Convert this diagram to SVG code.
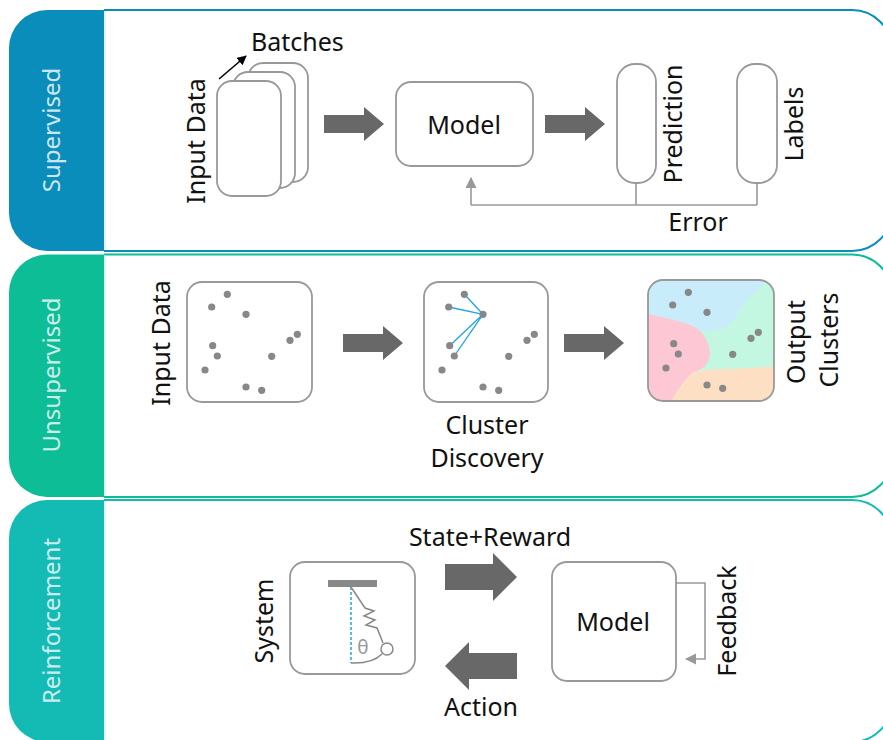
<svg xmlns="http://www.w3.org/2000/svg" xmlns:xlink="http://www.w3.org/1999/xlink" width="883" height="740" viewBox="0 0 883 740">
  <style>
    text { font-family: "Noto Sans", "Open Sans", "DejaVu Sans", sans-serif; font-size: 25px; fill: #111; }
    .tab-label { font-size: 24px; fill: #e4f4f7; fill-opacity: 0.9; text-anchor: middle; }
    .mid { text-anchor: middle; }
    .box { fill: #fff; stroke: #999; stroke-width: 1.8; }
    .wire { fill: none; stroke: #999; stroke-width: 1.6; }
    .block { fill: #686868; }
    .dot { fill: #888; }
    .spring { fill: none; stroke: #888; stroke-width: 1.5; }
  </style>
  <defs>
    <marker id="tipGray" viewBox="0 0 10 10" refX="9" refY="5" markerWidth="7" markerHeight="7" orient="auto">
      <path d="M0,0 L10,5 L0,10 z" fill="#999"/>
    </marker>
    <marker id="tipBlack" viewBox="0 0 10 10" refX="9" refY="5" markerWidth="6" markerHeight="6" orient="auto">
      <path d="M0,0 L10,5 L0,10 z" fill="#000"/>
    </marker>
    <!-- scatter of eleven samples, positioned relative to a box corner -->
    <g id="samples">
      <circle class="dot" cx="40.3" cy="12.3" r="3.6"/>
      <circle class="dot" cx="24.7" cy="25" r="3.6"/>
      <circle class="dot" cx="59" cy="32.3" r="3.6"/>
      <circle class="dot" cx="25.7" cy="63.7" r="3.6"/>
      <circle class="dot" cx="30.3" cy="74" r="3.6"/>
      <circle class="dot" cx="18" cy="88" r="3.6"/>
      <circle class="dot" cx="84.7" cy="74.3" r="3.6"/>
      <circle class="dot" cx="103" cy="58.3" r="3.6"/>
      <circle class="dot" cx="110.3" cy="52.3" r="3.6"/>
      <circle class="dot" cx="59" cy="105" r="3.6"/>
      <circle class="dot" cx="74.7" cy="108.3" r="3.6"/>
    </g>
    <clipPath id="clusterClip">
      <rect x="648" y="280" width="126" height="121" rx="15"/>
    </clipPath>
  </defs>

  <!-- section frames with coloured side tabs -->
  <g id="panel-supervised">
    <path d="M104,10 H852 A40,40 0 0 1 892,50 V211 A40,40 0 0 1 852,251 H104" fill="#fff" stroke="#0b8dbb" stroke-width="2"/>
    <path d="M104,10 V251 H47 A38,38 0 0 1 9,213 V48 A38,38 0 0 1 47,10 Z" fill="#0b8dbb"/>
    <line x1="105" y1="11" x2="105" y2="250" stroke="#d6eef6" stroke-width="1.5"/>
    <text class="tab-label" transform="translate(60,130) rotate(-90)">Supervised</text>
  </g>
  <g id="panel-unsupervised">
    <path d="M104,254.5 H852 A40,40 0 0 1 892,294.5 V457 A40,40 0 0 1 852,497 H104" fill="#fff" stroke="#0dbd95" stroke-width="2"/>
    <path d="M104,254.5 V497 H47 A38,38 0 0 1 9,459 V292.5 A38,38 0 0 1 47,254.5 Z" fill="#0dbd95"/>
    <line x1="105" y1="255.5" x2="105" y2="496" stroke="#d4f3ea" stroke-width="1.5"/>
    <text class="tab-label" transform="translate(60,375) rotate(-90)">Unsupervised</text>
  </g>
  <g id="panel-reinforcement">
    <path d="M104,500 H852 A40,40 0 0 1 892,540 V702 A40,40 0 0 1 852,742 H104" fill="#fff" stroke="#14bbb5" stroke-width="2"/>
    <path d="M104,500 V742 H47 A38,38 0 0 1 9,704 V538 A38,38 0 0 1 47,500 Z" fill="#14bbb5"/>
    <line x1="105" y1="501" x2="105" y2="741" stroke="#d4f2f1" stroke-width="1.5"/>
    <text class="tab-label" transform="translate(60,621) rotate(-90)">Reinforcement</text>
  </g>

  <!-- Supervised -->
  <g id="batches">
    <rect class="box" x="248" y="63" width="60" height="119" rx="15"/>
    <rect class="box" x="233" y="72" width="62" height="116" rx="15"/>
    <rect class="box" x="217" y="81" width="64" height="115" rx="15"/>
    <text transform="translate(205,141) rotate(-90)" class="mid">Input Data</text>
    <text x="251" y="51">Batches</text>
  </g>
  <g id="model-supervised">
    <rect class="box" x="396" y="82" width="137" height="84" rx="15"/>
    <text x="464" y="134" class="mid">Model</text>
  </g>
  <g id="prediction">
    <rect class="box" x="617" y="64" width="39" height="119" rx="18"/>
    <text transform="translate(682,124) rotate(-90)" class="mid">Prediction</text>
  </g>
  <g id="labels">
    <rect class="box" x="737" y="64" width="40" height="119" rx="18"/>
    <text transform="translate(803,124) rotate(-90)" class="mid">Labels</text>
  </g>

  <!-- Unsupervised -->
  <g id="input-data-unsup">
    <rect class="box" x="187" y="282" width="125" height="120" rx="15"/>
    <use xlink:href="#samples" href="#samples" transform="translate(187,282)"/>
    <text transform="translate(170,343) rotate(-90)" class="mid">Input Data</text>
  </g>
  <g id="cluster-discovery">
    <rect class="box" x="424" y="282" width="124" height="120" rx="15"/>
    <g stroke="#1ea3e6" stroke-width="1.3">
      <line x1="483" y1="314.3" x2="464.3" y2="294.3"/>
      <line x1="483" y1="314.3" x2="448.7" y2="307"/>
      <line x1="483" y1="314.3" x2="449.7" y2="345.7"/>
      <line x1="483" y1="314.3" x2="454.3" y2="356"/>
    </g>
    <use xlink:href="#samples" href="#samples" transform="translate(424,282)"/>
    <text x="487" y="434" class="mid">Cluster</text>
    <text x="487" y="467" class="mid">Discovery</text>
  </g>
  <g id="output-clusters">
    <g clip-path="url(#clusterClip)">
      <rect x="646" y="278" width="130" height="126" fill="#c9ecfb"/>
      <path d="M700,332 C712,330 726,332 736,317 C745,302 753,290 770,282 L776,280 L776,404 L700,404 Z" fill="#c3f7e2"/>
      <path d="M646,313 C668,320 692,322 701,332 C712,344 712,360 705,366 C700,370 696,371 693,372 C683,382 676,392 670,404 L646,404 Z" fill="#fdc7d4"/>
      <path d="M670,404 C676,392 683,382 693,372 C705,368 730,370 776,366 V404 Z" fill="#fde0c3"/>
    </g>
    <rect x="648" y="280" width="126" height="121" rx="15" fill="none" stroke="#999" stroke-width="1.8"/>
    <use xlink:href="#samples" href="#samples" transform="translate(648,280)"/>
    <text transform="translate(805,342) rotate(-90)" class="mid">Output</text>
    <text transform="translate(838,340) rotate(-90)" class="mid">Clusters</text>
  </g>

  <!-- Reinforcement -->
  <g id="system">
    <rect class="box" x="290" y="562" width="125" height="112" rx="15"/>
    <rect x="328" y="580" width="49" height="7" fill="#888"/>
    <line x1="351" y1="587" x2="351" y2="663" stroke="#1ea3e6" stroke-width="1.5" stroke-dasharray="3,2"/>
    <path class="spring" d="M351,587 L365,608 L374,611 L364,616 L375,620 L366,625 L377,628 L383,643"/>
    <circle cx="387" cy="649" r="6" fill="#fff" stroke="#888" stroke-width="1.5"/>
    <path class="spring" d="M351,663 Q372,664 382,654"/>
    <text x="363" y="654" class="mid" style="font-size:19px; fill:#999">θ</text>
    <text transform="translate(273,621) rotate(-90)" class="mid">System</text>
  </g>
  <g id="model-reinforcement">
    <rect class="box" x="552" y="562" width="124" height="119" rx="15"/>
    <text x="613" y="631" class="mid">Model</text>
    <text transform="translate(736,621) rotate(-90)" class="mid">Feedback</text>
  </g>

  <!-- connectors -->
  <g id="connectors">
    <line x1="219" y1="79" x2="246" y2="56" stroke="#000" stroke-width="1.6" marker-end="url(#tipBlack)"/>
    <path class="block" d="M324,115 H364 V107 L384,124 L364,141 V133 H324 Z"/>
    <path class="block" d="M545,115 H585 V107 L605,124 L585,141 V133 H545 Z"/>
    <path class="wire" d="M636,183 V205 M757,183 V205 M471,205 H757"/>
    <line class="wire" x1="471" y1="205" x2="471" y2="178" marker-end="url(#tipGray)"/>
    <text x="698" y="231" class="mid">Error</text>

    <path class="block" d="M343,334 H383 V326 L403,343 L383,360 V352 H343 Z"/>
    <path class="block" d="M564,334 H604 V326 L624,343 L604,360 V352 H564 Z"/>

    <path class="block" d="M445,564 H493 V553 L517,577 L493,601 V590 H445 Z"/>
    <text x="490" y="546" class="mid">State+Reward</text>
    <path class="block" d="M517,653 H469 V642 L445,666 L469,690 V679 H517 Z"/>
    <text x="481" y="716" class="mid">Action</text>
    <path class="wire" d="M676,583 H705 V659 H686" marker-end="url(#tipGray)"/>
  </g>
</svg>
